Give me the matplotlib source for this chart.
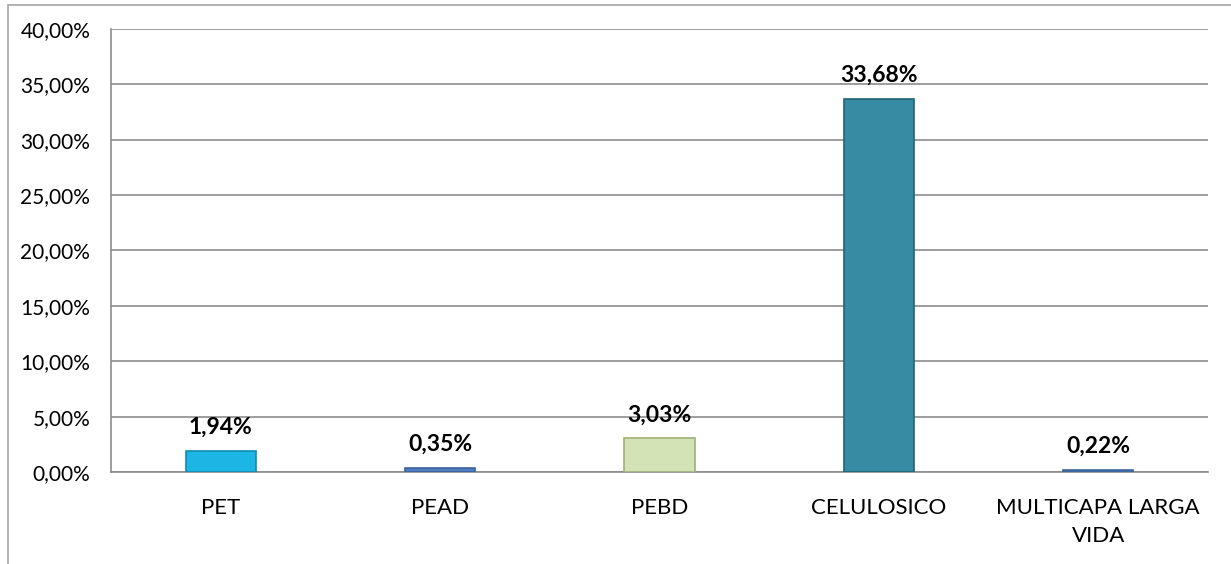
import matplotlib
matplotlib.use("Agg")
import matplotlib.pyplot as plt
from matplotlib.patches import Rectangle
from matplotlib.ticker import FuncFormatter, MultipleLocator

categories = ["PET", "PEAD", "PEBD", "CELULOSICO", "MULTICAPA LARGA\nVIDA"]
values = [1.94, 0.35, 3.03, 33.68, 0.22]
labels = ["1,94%", "0,35%", "3,03%", "33,68%", "0,22%"]
colors = ["#1CB5E4", "#4F7FC0", "#D3E3B5", "#378BA3", "#4F7FC0"]
edges = ["#118CB3", "#3A639C", "#9DB07A", "#1F6478", "#3A639C"]

plt.rcParams['font.family'] = ['Lato', 'DejaVu Sans']

fig = plt.figure(figsize=(12.31, 5.64), dpi=100)
ax = fig.add_axes([111/1231, 1-472/564, (1208-111)/1231, (472-29)/564])

x = list(range(len(categories)))
ax.bar(x, values, width=0.32, color=colors, edgecolor=edges, linewidth=1.2, zorder=3)
for xi, v, lab in zip(x, values, labels):
    ax.annotate(lab, (xi, v), xytext=(0, 9.5), textcoords="offset points",
                ha="center", va="bottom", fontsize=16.5, fontweight="bold", color="black", zorder=4)

ax.set_xlim(-0.5, len(categories) - 0.5)
ax.set_ylim(0, 40)
ax.yaxis.set_major_locator(MultipleLocator(5))
ax.yaxis.set_major_formatter(FuncFormatter(lambda v, p: f"{v:.2f}".replace(".", ",") + "%"))
ax.set_xticks(x)
ax.set_xticklabels(categories, fontsize=16, linespacing=1.45)
ax.tick_params(axis="y", labelsize=15, length=0, pad=15)
ax.tick_params(axis="x", length=0, pad=19)
ax.grid(axis="y", color="#8C8C8C", linewidth=1.2, zorder=0)
for s in ["top", "right"]:
    ax.spines[s].set_visible(False)
for s in ["left", "bottom"]:
    ax.spines[s].set_color("#8C8C8C")
    ax.spines[s].set_linewidth(1.2)

fig.patches.append(Rectangle((8/1231, -0.05), 1.2, 1 - 5/564 + 0.05, transform=fig.transFigure,
                             fill=False, edgecolor="#A6A6A6", linewidth=1.2))

fig.savefig("out.png", dpi=100)
